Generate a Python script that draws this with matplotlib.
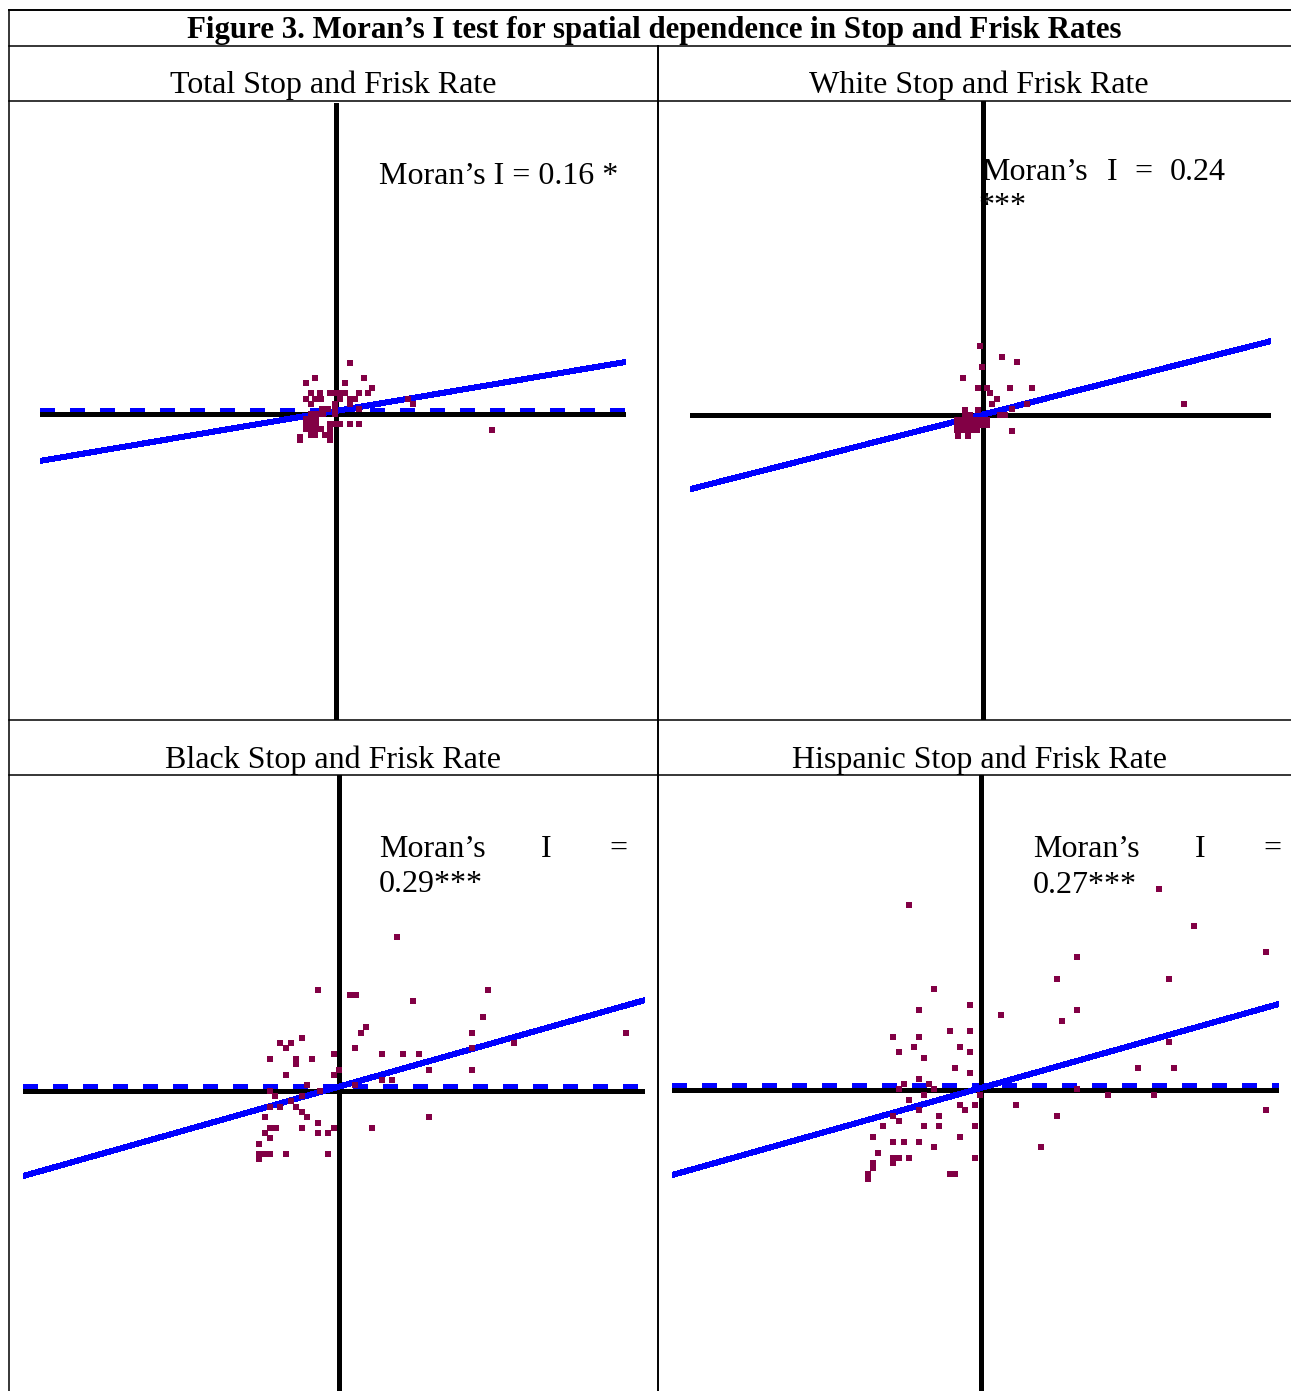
"""Figure 3: Moran's I scatterplots for stop-and-frisk rates, rebuilt as a 2x2 table."""

import matplotlib

matplotlib.use("Agg")
import matplotlib.pyplot as plt  # noqa: E402
from matplotlib.lines import Line2D  # noqa: E402

W, H = 1291, 1391

title = "Figure 3. Moran\u2019s I test for spatial dependence in Stop and Frisk Rates"
headers = ["Total Stop and Frisk Rate", "White Stop and Frisk Rate",
           "Black Stop and Frisk Rate", "Hispanic Stop and Frisk Rate"]

# standardized rate (x) vs spatial lag (y)
total_x = [0.73, -1.03, 1.43, -1.48, 0.48, 1.83, 1.63, -1.23, -0.78, -0.28, -0.03, 0.23, 0.48,
           1.18, -1.48, -1.03, -0.73, 0.23, 0.73, 0.98, 3.63, -1.23, -0.03, 0.73, 3.88, -0.68,
           -0.38, -0.03, 1.18, -1.23, -0.93, -0.63, -0.03, -1.48, -1.23, -0.98, -0.28, -0.03,
           0.23, 0.73, 1.18, -1.48, -1.23, -0.98, -1.48, -1.23, -0.98, -0.73, -0.28, 7.83,
           -1.78, -1.23, -1.03, -0.53, -0.28, -1.78, -0.28]
total_y = [2.55, 1.8, 1.8, 1.55, 1.55, 1.3, 1.05, 1.05, 1.05, 1.05, 1.05, 1.05, 1.05,
           1.05, 0.75, 0.75, 0.75, 0.75, 0.75, 0.75, 0.75, 0.5, 0.5, 0.5, 0.5, 0.25,
           0.25, 0.25, 0.25, 0.0, 0.0, 0.0, 0.0, -0.25, -0.25, -0.25, -0.5, -0.5,
           -0.5, -0.5, -0.5, -0.5, -0.5, -0.5, -0.75, -0.75, -0.75, -0.75, -0.75, -0.8,
           -1.15, -1.05, -1.05, -1.05, -1.05, -1.3, -1.3]

white_x = [-0.15, 0.95, 1.7, -0.05, -1.0, -0.25, 0.2, 1.35, 2.45, 0.35, 0.7, 0.45, 2.2, 10.05,
           -0.9, -0.25, 1.45, -0.9, -0.65, 0.85, 1.1,
           -1.3, -1.05, -0.8, -0.55, -0.3, -0.05, 0.2,
           -1.3, -1.05, -0.8, -0.55, -0.3, -0.05, 0.2,
           -1.3, -1.05, -0.8, -0.55, -0.3,
           1.45, -1.25, -0.75]
white_y = [3.43, 2.88, 2.63, 2.38, 1.83, 1.33, 1.33, 1.33, 1.33, 1.08, 0.78, 0.53, 0.53, 0.53,
           0.23, 0.23, 0.28, -0.03, -0.03, -0.03, -0.03,
           -0.28, -0.28, -0.28, -0.28, -0.28, -0.28, -0.28,
           -0.53, -0.53, -0.53, -0.53, -0.53, -0.53, -0.53,
           -0.78, -0.78, -0.78, -0.78, -0.78,
           -0.83, -1.08, -1.08]

black_x = [2.88, -1.08, 7.43, 0.53, 0.83, 3.68, 7.18, 1.33, 1.08, 6.63, 14.33, -1.88, -2.98,
           -2.43, 8.73, -2.68, 0.78, 6.63, -0.28, 2.13, 3.18, 3.98, -3.48, -2.18, -1.38,
           -2.18, -0.03, 4.48, 6.63, -2.68, -0.28, 2.13, 2.63, -1.63, 0.78, -3.48, -0.98,
           -3.23, -1.88, -2.43, -3.48, -2.98, -2.18, -1.88, -3.73, -1.63, 4.48, -1.08, -3.48,
           -3.18, -1.88, -0.28, 1.63, -3.73, -1.08, -0.58, -3.48, -4.03, -4.03, -3.73, -3.48,
           -2.68, -0.58, -4.03]
black_y = [7.68, 5.03, 5.03, 4.78, 4.78, 4.48, 3.68, 3.18, 2.88, 2.88, 2.88, 2.63, 2.38,
           2.38, 2.38, 2.13, 2.13, 2.13, 1.83, 1.83, 1.83, 1.83, 1.58, 1.58, 1.58,
           1.33, 1.03, 1.03, 1.03, 0.78, 0.78, 0.53, 0.53, 0.28, 0.28, -0.03, -0.03,
           -0.28, -0.28, -0.53, -0.83, -0.83, -0.83, -1.08, -1.33, -1.33, -1.33, -1.63, -1.88,
           -1.88, -1.88, -1.88, -1.88, -2.13, -2.13, -2.13, -2.38, -2.68, -3.18, -3.18, -3.18,
           -3.18, -3.18, -3.43]

hisp_x = [8.93, -3.58, 10.68, 14.28, 4.83, 3.83, 9.43, -2.33, -0.53, -3.08, 4.83, 1.03, 4.08,
          -4.38, -3.08, -1.53, -0.53, -3.33, -1.03, -4.08, -0.53, -2.83, 9.43, -1.28, 7.88,
          9.68, -0.53, -3.08, -3.83, -2.58, -4.08, -2.33, 4.83, -2.83, -0.03, 6.38, 8.68,
          -3.58, -3.08, -1.03, -0.78, -0.28, 1.78, -4.38, -2.08, 3.83, 14.28, -4.08, -4.88,
          -2.83, -2.08, -0.28, -5.38, -1.03, -4.38, -3.83, -3.08, -2.33, 3.03, -5.13, -4.38,
          -4.08, -3.58, -0.28, -4.38, -5.38, -5.38, -5.63, -5.63, -1.53, -1.28]
hisp_y = [10.03, 9.23, 8.18, 6.88, 6.63, 5.53, 5.53, 5.03, 4.23, 3.98, 3.98, 3.73, 3.43,
          2.63, 2.63, 2.93, 2.93, 2.13, 2.13, 1.88, 1.88, 1.58, 2.38, 1.08, 1.08,
          1.08, 0.83, 0.53, 0.28, 0.28, 0.03, 0.03, 0.03, -0.28, -0.28, -0.28, -0.28,
          -0.53, -1.03, -0.78, -1.03, -0.78, -0.78, -1.33, -1.33, -1.33, -1.03, -1.58, -1.83,
          -1.83, -1.83, -1.83, -2.38, -2.38, -2.63, -2.63, -2.63, -2.88, -2.88, -3.18, -3.43,
          -3.43, -3.43, -3.43, -3.68, -3.68, -3.93, -4.23, -4.48, -4.23, -4.23]

xs = [total_x, white_x, black_x, hisp_x]
ys = [total_y, white_y, black_y, hisp_y]
slopes = [0.169, 0.255, 0.283, 0.282]
intercepts = [0.15, 0.0, 0.20, 0.07]
mean_lag = [0.2, None, 0.25, 0.25]   # dashed reference line; none visible for White

# layout in pixels: plot box (left, right, top, bottom) and where the axes cross
boxes = [(40, 626, 103, 720), (690, 1271, 101, 720), (23, 645, 775, 1391), (672, 1279, 775, 1391)]
origins = [(335.5, 414), (983, 414.5), (339.5, 1090.5), (980.5, 1089.5)]
PX = 20.0  # pixels per data unit

POINT = "#820045"
BLUE = "#0000ff"
LW = 3.6  # 5 px

fig = plt.figure(figsize=(W / 100, H / 100), dpi=100)
fig.patch.set_facecolor("white")


def fx(px):
    return px / W


def fy(py):
    return 1 - py / H


def hline(py, x0, x1, lw=1.1):
    fig.add_artist(Line2D([fx(x0), fx(x1)], [fy(py), fy(py)], color="black", lw=lw))


def vline(px, y0, y1, lw=1.1):
    fig.add_artist(Line2D([fx(px), fx(px)], [fy(y0), fy(y1)], color="black", lw=lw))


# table grid
hline(10, 9, 1291, lw=1.4)
for py in (46, 101, 720, 775):
    hline(py, 9, 1291)
vline(9, 10, 1391)
vline(658, 46, 1391, lw=1.4)

serif = ["Liberation Serif", "DejaVu Serif"]
fig.text(fx(654), fy(38), title, ha="center", va="baseline", family=serif,
         weight="bold", fontsize=22.2)
header_pos = [(333, 93), (979, 93), (333, 768), (979, 768)]
for (hx, hy), h in zip(header_pos, headers):
    fig.text(fx(hx), fy(hy), h, ha="center", va="baseline", family=serif, fontsize=23)

axes = []
for i in range(4):
    l, r, t, b = boxes[i]
    ox, oy = origins[i]
    ax = fig.add_axes([fx(l), fy(b), (r - l) / W, (b - t) / H])
    ax.set_xlim((l - ox) / PX, (r - ox) / PX)
    ax.set_ylim((oy - b) / PX, (oy - t) / PX)
    ax.set_axis_off()
    ax.patch.set_visible(False)
    x0, x1 = ax.get_xlim()
    if mean_lag[i] is not None:
        ax.plot([x0, x1], [mean_lag[i]] * 2, color=BLUE, lw=LW,
                linestyle=(0, (2.8, 3.0)), antialiased=False, zorder=1)
    ax.axhline(0, color="black", lw=LW, antialiased=False, zorder=2)
    ax.axvline(0, color="black", lw=LW, antialiased=False, zorder=2)
    ax.plot([x0, x1], [intercepts[i] + slopes[i] * x0, intercepts[i] + slopes[i] * x1],
            color=BLUE, lw=LW, solid_capstyle="butt", antialiased=False, zorder=3)
    ax.scatter(xs[i], ys[i], marker="s", s=13, color=POINT, linewidths=0,
               antialiased=False, zorder=4)
    axes.append(ax)


def note(ax, px, py, s):
    ax.text(fx(px), fy(py), s, transform=fig.transFigure, ha="left", va="baseline",
            family=serif, fontsize=23, zorder=1.5, clip_on=False)


# Moran's I labels (justified in the source, so words are placed one by one)
note(axes[0], 379, 184, "Moran\u2019s I = 0.16 *")
for px, word in [(981, "Moran\u2019s"), (1107, "I"), (1134, "="), (1170, "0.24")]:
    note(axes[1], px, 180, word)
note(axes[1], 978, 214, "***")
for px, word in [(379, "Moran\u2019s"), (541, "I"), (609, "=")]:
    note(axes[2], px, 857, word)
note(axes[2], 379, 892, "0.29***")
for px, word in [(1033, "Moran\u2019s"), (1195, "I"), (1263, "=")]:
    note(axes[3], px, 857, word)
note(axes[3], 1033, 893, "0.27***")

fig.savefig("out.png", dpi=100, facecolor="white")
